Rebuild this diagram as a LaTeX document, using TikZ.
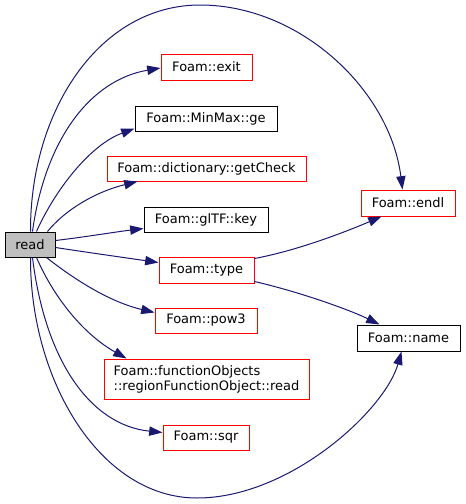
\documentclass[tikz,border=0pt]{standalone}
\usepackage{fontspec}
\setmainfont{DejaVu Sans}
\usetikzlibrary{arrows.meta,calc}
\definecolor{edgeblue}{HTML}{191970}
\definecolor{fred}{HTML}{FF0000}
\definecolor{readgray}{HTML}{BFBFBF}
\def\pxu{0.75pt}
\begin{document}
\begin{tikzpicture}[x=0.75pt,y=-0.75pt,
  box/.style={draw, rectangle, inner sep=0pt, line width=0.75pt, anchor=center,
    font=\fontsize{9.75}{11.25}\selectfont},
  redbox/.style={box, draw=fred},
  blkbox/.style={box, draw=black},
  edge/.style={draw=edgeblue, line width=0.75pt, -{Triangle[length=10pt,width=7pt]}}
]
\useasboundingbox (0,0) rectangle (465,504);

\node[blkbox, fill=readgray, minimum width=50*\pxu, minimum height=25*\pxu] (read) at (30,244.5) {read};
\node[redbox, minimum width=91*\pxu, minimum height=26*\pxu] (exit) at (206.5,67) {Foam::exit};
\node[blkbox, minimum width=142*\pxu, minimum height=25*\pxu] (ge) at (206,118.5) {Foam::MinMax::ge};
\node[redbox, minimum width=199*\pxu, minimum height=25*\pxu] (getcheck) at (206.5,168.5) {Foam::dictionary::getCheck};
\node[blkbox, minimum width=124*\pxu, minimum height=25*\pxu] (key) at (206,219.5) {Foam::glTF::key};
\node[redbox, minimum width=95*\pxu, minimum height=26*\pxu] (type) at (206.5,270) {Foam::type};
\node[redbox, minimum width=102*\pxu, minimum height=25*\pxu] (pow3) at (206,320.5) {Foam::pow3};
\node[redbox, minimum width=205*\pxu, minimum height=40*\pxu, align=left] (fobj) at (206.5,379) {Foam::functionObjects\\::regionFunctionObject::read};
\node[redbox, minimum width=86*\pxu, minimum height=25*\pxu] (sqr) at (206,437.5) {Foam::sqr};
\node[redbox, minimum width=94*\pxu, minimum height=26*\pxu] (endl) at (408,203) {Foam::endl};
\node[blkbox, minimum width=103*\pxu, minimum height=26*\pxu] (name) at (408.5,338) {Foam::name};

% read -> endl (over the top)
\draw[edge] ($(read.north west)+(26,0)$) .. controls (30,110) and (100,5) .. (200,5)
  .. controls (300,5) and (390,90) .. ($(endl.north west)+(42,0)$);
% read -> exit
\draw[edge] ($(read.north west)+(28,0)$) .. controls (45,140) and (90,80) .. ($(exit.west)+(0,1)$);
% read -> ge
\draw[edge] ($(read.north west)+(32,0)$) .. controls (55,190) and (90,145) .. ($(ge.south west)+(0,-3)$);
% read -> getCheck
\draw[edge] ($(read.north west)+(43,0)$) .. controls (65,210) and (95,192) .. ($(getcheck.south west)+(31,0)$);
% read -> key
\draw[edge] ($(read.north east)+(0,9)$) .. controls (85,237) and (115,232) .. ($(key.south west)+(0,-4)$);
% read -> type
\draw[edge] ($(read.north east)+(0,16)$) .. controls (85,252) and (120,257) .. ($(type.north west)+(0,6)$);
% read -> pow3
\draw[edge] ($(read.south west)+(42,0)$) .. controls (75,280) and (110,302) .. ($(pow3.north west)+(0,5)$);
% read -> functionObjects
\draw[edge] ($(read.south west)+(32,0)$) .. controls (55,300) and (85,335) .. ($(fobj.north west)+(23,0)$);
% read -> sqr
\draw[edge] ($(read.south west)+(28,0)$) .. controls (45,360) and (90,425) .. ($(sqr.north west)+(0,8)$);
% read -> name (under the bottom)
\draw[edge] ($(read.south west)+(26,0)$) .. controls (30,380) and (100,498) .. (197,498)
  .. controls (290,498) and (385,410) .. ($(name.south west)+(45,0)$);
% type -> endl
\draw[edge] ($(type.north east)+(0,2)$) .. controls (300,250) and (350,230) .. ($(endl.south west)+(21,0)$);
% type -> name
\draw[edge] ($(type.south east)+(0,-2)$) .. controls (300,292) and (350,310) .. ($(name.north west)+(23,0)$);
\end{tikzpicture}
\end{document}
